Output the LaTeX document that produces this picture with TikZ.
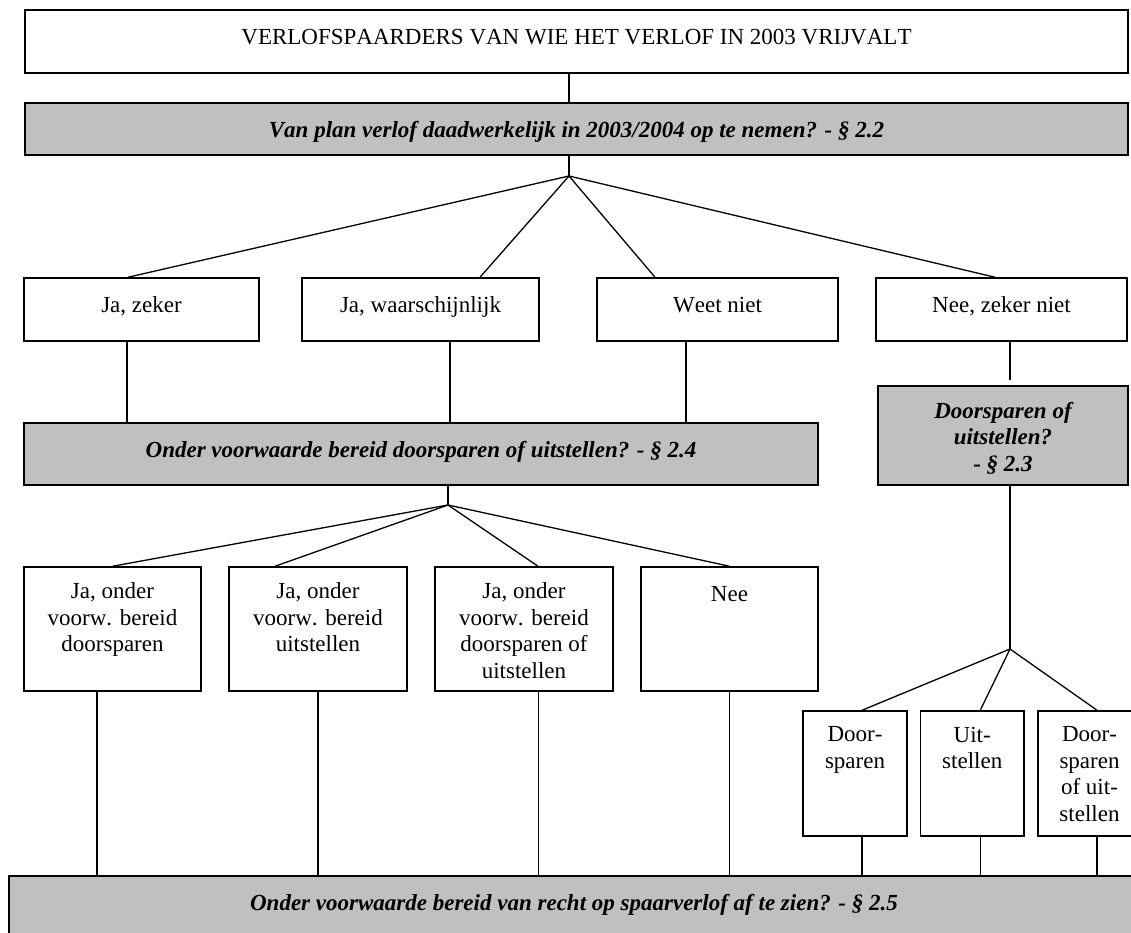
\documentclass[tikz,border=0pt]{standalone}
\usepackage{fontspec}
\setmainfont{Liberation Serif}[Kerning=Off]
\definecolor{zilver}{RGB}{192,192,192}
\tikzset{
  vak/.style 2 args={draw, line width=1.5pt, fill=white, inner sep=0pt, minimum width=#1pt, minimum height=#2pt},
  grijs/.style={fill=zilver},
  tekst/.style={anchor=north, yshift=-16.4pt, inner sep=0pt, align=center, font=\fontsize{23}{26.5}\selectfont, execute at begin node=\strut},
  vet/.style={tekst, font=\fontsize{23}{26.5}\selectfont\bfseries\itshape},
  lijn/.style={line width=1.3pt},
}

\begin{document}
\begin{tikzpicture}[x=1pt, y=-1pt]
  \clip (0,0) rectangle (1131,933);

  \node[vak={1103}{63}, label={[tekst]north:VERLOFSPAARDERS VAN WIE HET VERLOF IN 2003 VRIJVALT}] at (576.5,41.5) (titel) {};
  \node[vak={1103}{52}, grijs, label={[vet]north:Van plan verlof daadwerkelijk in 2003/2004 op te nemen? - \S\ 2.2}] at (576.5,129) (vraag1) {};

  \node[vak={235}{63}, label={[tekst]north:{Ja, zeker}}] at (141.5,309.5) (zeker) {};
  \node[vak={237}{63}, label={[tekst]north:{Ja, waarschijnlijk}}] at (420.5,309.5) (waarsch) {};
  \node[vak={241}{63}, label={[tekst]north:Weet niet}] at (717.5,309.5) (weet) {};
  \node[vak={251}{63}, label={[tekst]north:{Nee, zeker niet}}] at (1001.5,309.5) (neezeker) {};

  \node[vak={794}{62}, grijs, label={[vet]north:Onder voorwaarde bereid doorsparen of uitstellen? - \S\ 2.4}] at (421,454) (vraag2) {};
  \node[vak={250}{99}, grijs, label={[vet]north:Doorsparen of\\uitstellen?\\- \S\ 2.3}] at (1003,435.5) (vraag3) {};

  \node[vak={177}{124}, label={[tekst]north:{Ja, onder\\voorw. bereid\\doorsparen}}] at (112.5,629) (ja1) {};
  \node[vak={178}{124}, label={[tekst]north:{Ja, onder\\voorw. bereid\\uitstellen}}] at (318,629) (ja2) {};
  \node[vak={178}{124}, label={[tekst]north:{Ja, onder\\voorw. bereid\\doorsparen of\\uitstellen}}] at (524,629) (ja3) {};
  \node[vak={177}{124}, label={[tekst]north:Nee}] at (729.5,629) (nee) {};

  \node[vak={104}{125}, label={[tekst]north:Door-\\sparen}] at (855,773.5) (door) {};
  \node[vak={103.5}{125}, label={[tekst]north:Uit-\\stellen}] at (972.25,773.5) (uit) {};
  \node[vak={103}{125}, label={[tekst]north:Door-\\sparen\\of uit-\\stellen}] at (1089.5,773.5) (beide) {};

  \node[vak={1130}{62}, grijs, label={[vet]north:Onder voorwaarde bereid van recht op spaarverlof af te zien? - \S\ 2.5}] at (574,907) (vraag4) {};

  \coordinate (tak1) at (569,176);
  \coordinate (tak2) at (448,505);
  \coordinate (tak3) at (1010,649);

  % bovenste deel
  \draw[lijn] (titel.south -| tak1) -- (vraag1.north -| tak1);
  \draw[lijn] (vraag1.south -| tak1) -- (tak1);
  \draw[lijn] (tak1) -- ([xshift=-13.5pt]zeker.north);
  \draw[lijn] (tak1) -- ([xshift=59.5pt]waarsch.north);
  \draw[lijn] (tak1) -- ([xshift=-62.5pt]weet.north);
  \draw[lijn] (tak1) -- ([xshift=-6.5pt]neezeker.north);

  \draw[lijn] ([xshift=-14.5pt]zeker.south) -- ([xshift=-14.5pt]zeker.south |- vraag2.north);
  \draw[lijn] ([xshift=29.5pt]waarsch.south) -- ([xshift=29.5pt]waarsch.south |- vraag2.north);
  \draw[lijn] ([xshift=-31.5pt]weet.south) -- ([xshift=-31.5pt]weet.south |- vraag2.north);
  \draw[lijn, shorten >=5pt] (neezeker.south -| tak3) -- (vraag3.north -| tak3);

  % middelste deel
  \draw[lijn] (vraag2.south -| tak2) -- (tak2);
  \draw[lijn] (tak2) -- (ja1.north);
  \draw[lijn] (tak2) -- ([xshift=-43pt]ja2.north);
  \draw[lijn] (tak2) -- ([xshift=14pt]ja3.north);
  \draw[lijn] (tak2) -- (nee.north);

  \draw[lijn] (vraag3.south -| tak3) -- (tak3);
  \draw[lijn] (tak3) -- ([xshift=7pt]door.north);
  \draw[lijn] (tak3) -- ([xshift=8pt]uit.north);
  \draw[lijn] (tak3) -- ([xshift=7.5pt]beide.north);

  % onderste deel
  \draw[lijn] ([xshift=-15.5pt]ja1.south) -- ([xshift=-15.5pt]ja1.south |- vraag4.north);
  \draw[lijn] (ja2.south) -- (ja2.south |- vraag4.north);
  \draw[lijn] ([xshift=14.5pt]ja3.south) -- ([xshift=14.5pt]ja3.south |- vraag4.north);
  \draw[lijn] (nee.south) -- (nee.south |- vraag4.north);
  \draw[lijn] ([xshift=7pt]door.south) -- ([xshift=7pt]door.south |- vraag4.north);
  \draw[lijn] ([xshift=8pt]uit.south) -- ([xshift=8pt]uit.south |- vraag4.north);
  \draw[lijn] ([xshift=7.5pt]beide.south) -- ([xshift=7.5pt]beide.south |- vraag4.north);
\end{tikzpicture}
\end{document}
